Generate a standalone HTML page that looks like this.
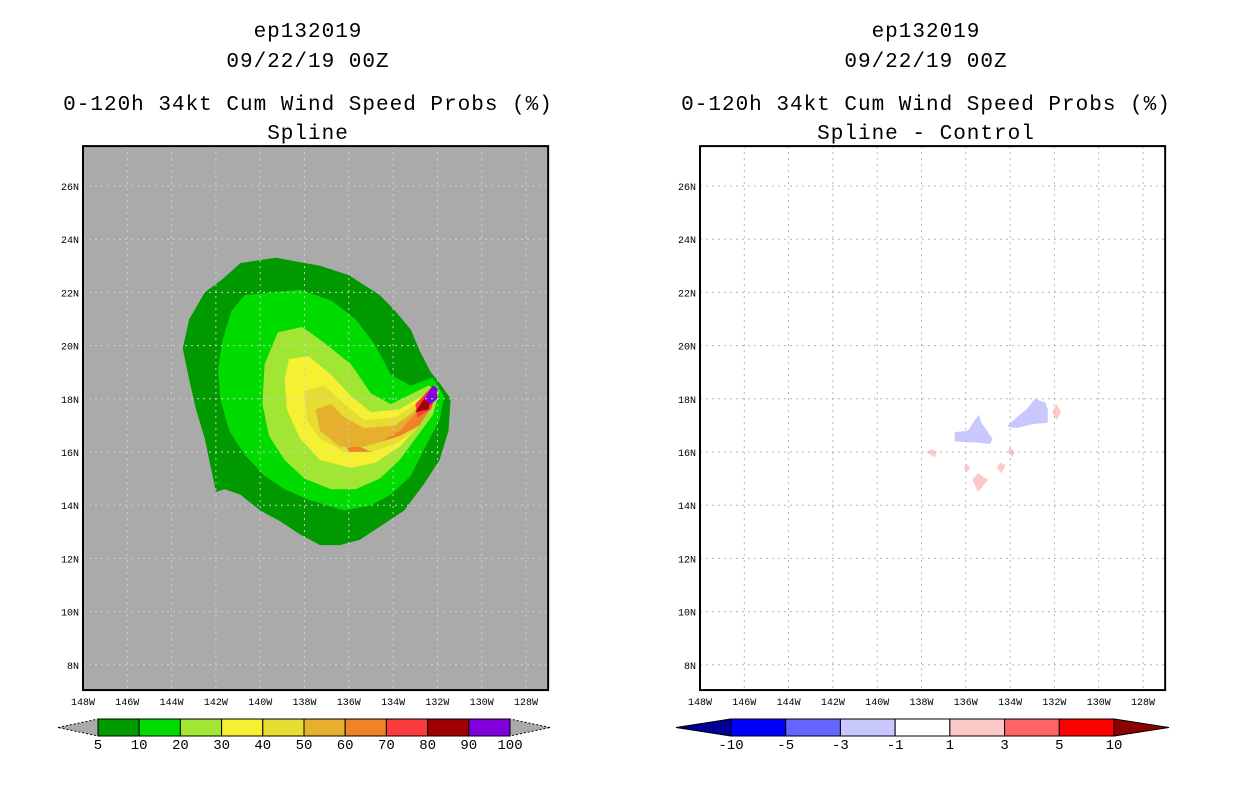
<!DOCTYPE html>
<html><head><meta charset="utf-8">
<style>
body{margin:0;background:#fff;}
svg text{font-family:"Liberation Mono","DejaVu Sans Mono",monospace;}
</style></head>
<body>
<svg id="root" width="1236" height="800" viewBox="0 0 1236 800" xmlns="http://www.w3.org/2000/svg">
<g font-size="21" letter-spacing="1" text-anchor="middle" fill="#000">
<text x="308" y="37">ep132019</text>
<text x="308" y="67">09/22/19 00Z</text>
<text x="308" y="110">0-120h 34kt Cum Wind Speed Probs (%)</text>
<text x="308" y="139">Spline</text>
</g>
<g font-size="21" letter-spacing="1" text-anchor="middle" fill="#000">
<text x="926" y="37">ep132019</text>
<text x="926" y="67">09/22/19 00Z</text>
<text x="926" y="110">0-120h 34kt Cum Wind Speed Probs (%)</text>
<text x="926" y="139">Spline - Control</text>
</g>
<g id="left"></g>
<g id="right"></g>
<g id="lcb"></g>
<g id="rcb"></g>
</svg>
<script>
const lonTicks=[-148,-146,-144,-142,-140,-138,-136,-134,-132,-130,-128];
const latTicks=[8,10,12,14,16,18,20,22,24,26];
const leftLevels=["5","10","20","30","40","50","60","70","80","90","100"];
const leftColors=["#009a00","#00dc00","#a0e632","#f5f032","#e6dc32","#e6af2d","#f08228","#fa3c3c","#a00000","#8200dc"];
const rightLevels=["-10","-5","-3","-1","1","3","5","10"];
const rightColors=["#0000ff","#6464ff","#c8c8ff","#ffffff","#ffc8c8","#ff6464","#ff0000"];
const p5=[[-140.9,23.1],[-139.3,23.3],[-137.3,23.0],[-136.0,22.65],[-134.6,21.9],[-133.9,21.3],[-133.2,20.6],[-132.8,19.8],[-132.3,19.0],[-132.0,18.7],[-131.4,18.0],[-131.5,16.8],[-131.9,15.7],[-132.6,14.8],[-133.5,13.8],[-134.4,13.3],[-135.5,12.7],[-136.4,12.5],[-137.3,12.5],[-138.2,12.9],[-139.1,13.4],[-140.0,13.8],[-140.9,14.4],[-141.6,14.6],[-142.0,14.5],[-142.2,15.3],[-142.5,16.5],[-142.9,17.6],[-143.2,18.7],[-143.5,19.9],[-143.2,21.0],[-142.5,22.0],[-141.7,22.5]];
const p10=[[-140.7,21.9],[-138.2,22.1],[-136.8,21.7],[-135.7,21.0],[-134.8,20.0],[-134.1,18.9],[-133.2,18.5],[-132.2,18.8],[-131.7,18.1],[-131.9,17.2],[-132.6,16.1],[-133.2,15.1],[-134.1,14.4],[-135.0,14.0],[-136.2,13.8],[-137.8,14.2],[-138.9,14.6],[-139.8,15.1],[-140.7,15.9],[-141.4,16.8],[-141.8,18.0],[-141.9,19.1],[-141.7,20.2],[-141.3,21.3]];
const p20=[[-139.2,20.5],[-138.1,20.7],[-137.1,20.1],[-135.9,19.3],[-135.0,18.2],[-134.1,17.8],[-132.4,18.5],[-131.9,18.3],[-132.2,17.4],[-133.0,16.5],[-133.7,15.7],[-134.6,15.0],[-135.7,14.6],[-136.8,14.6],[-138.0,15.0],[-138.9,15.7],[-139.6,16.6],[-139.9,17.8],[-139.8,19.3]];
const p30=[[-138.7,19.5],[-137.8,19.6],[-136.8,18.9],[-135.9,18.1],[-135.0,17.5],[-133.7,17.6],[-132.3,18.3],[-132.1,18.0],[-132.8,17.0],[-133.7,16.2],[-134.8,15.6],[-135.9,15.4],[-137.3,15.7],[-138.2,16.5],[-138.8,17.6],[-138.9,18.7]];
const p40=[[-138.0,18.3],[-137.1,18.5],[-136.2,17.8],[-135.3,17.2],[-133.9,17.3],[-132.4,18.1],[-132.2,17.8],[-133.0,16.8],[-133.9,16.3],[-135.0,16.0],[-136.2,16.0],[-137.3,16.5],[-137.9,17.2]];
const p50=[[-137.5,17.6],[-136.8,17.8],[-136.2,17.3],[-135.3,16.9],[-133.9,17.0],[-132.3,18.0],[-132.3,17.7],[-133.2,16.9],[-134.1,16.5],[-135.3,16.2],[-136.4,16.2],[-137.3,16.8]];
const p60a=[[-134.5,16.4],[-133.7,16.8],[-132.6,17.8],[-132.2,17.8],[-132.8,17.0],[-133.7,16.6]];
const p60b=[[-136.1,16.2],[-135.5,16.2],[-135.0,16.0],[-136.0,16.0]];
const p70=[[-133.0,17.8],[-132.2,18.5],[-132.1,18.1],[-132.3,17.6],[-132.9,17.3]];
const p80=[[-133.0,17.5],[-132.6,18.0],[-132.3,18.0],[-132.4,17.6]];
const p90=[[-132.6,18.0],[-132.2,18.5],[-132.0,18.4],[-132.0,18.0],[-132.3,17.8]];
const leftPolys=[[0,p5],[1,p10],[2,p20],[3,p30],[4,p40],[5,p50],[6,p60a],[6,p60b],[7,p70],[8,p80],[9,p90]];
const d1=[[-136.5,16.75],[-135.9,16.8],[-135.6,17.2],[-135.4,17.4],[-135.3,17.1],[-135.0,16.75],[-134.8,16.5],[-134.9,16.3],[-135.4,16.35],[-136.5,16.4]];
const d2=[[-134.1,17.0],[-133.7,17.3],[-133.2,17.65],[-132.9,18.0],[-132.4,17.85],[-132.3,17.6],[-132.3,17.1],[-133.0,17.05],[-133.7,16.9],[-134.1,16.95]];
const q1=[[-137.8,16.0],[-137.5,16.1],[-137.3,16.0],[-137.4,15.8]];
const q2=[[-132.1,17.5],[-131.9,17.8],[-131.7,17.5],[-131.9,17.2]];
const q3=[[-136.1,15.4],[-135.95,15.55],[-135.8,15.4],[-135.95,15.25]];
const q4=[[-135.7,14.95],[-135.45,15.2],[-135.0,14.95],[-135.45,14.5]];
const q5=[[-134.6,15.4],[-134.45,15.6],[-134.2,15.5],[-134.4,15.2]];
const q6=[[-134.1,16.0],[-134.0,16.2],[-133.8,16.0],[-133.9,15.8]];
const rightPolys=[[2,d1],[2,d2],[4,q1],[4,q2],[4,q3],[4,q4],[4,q5],[4,q6]];

const NS="http://www.w3.org/2000/svg";
function mk(tag,attrs,parent){const e=document.createElementNS(NS,tag);for(const k in attrs)e.setAttribute(k,attrs[k]);parent.appendChild(e);return e;}
const PX=22.15, PY=26.6;
function xs(ox){return lon=>ox+(lon+148)*PX;}
function ys(lat){return 186+(26-lat)*PY;}
function panel(g,ox,bg,grid,polys,colors,side){
  const x=xs(ox);
  const W=x(-127)-ox, top=ys(27.5), bot=ys(7.05);
  const bgr=mk('rect',{x:ox,y:top,width:W,height:bot-top,fill:bg},g);
  
  
  polys.forEach(([ci,pts],i)=>{
    const p=mk('polygon',{points:pts.map(([lo,la])=>x(lo).toFixed(1)+','+ys(la).toFixed(1)).join(' '),fill:colors[ci]},g);
    
    
  });
  lonTicks.forEach(t=>{
    if(t>-148){const l=mk('line',{x1:x(t),x2:x(t),y1:top,y2:bot,stroke:grid,'stroke-width':1,'stroke-dasharray':'2,4'},g);
    
    }
    const tx=mk('text',{x:x(t),y:705,'font-size':10,'text-anchor':'middle'},g);
    
    
    tx.textContent=Math.abs(t)+'W';
  });
  latTicks.forEach(t=>{
    const l=mk('line',{x1:ox,x2:ox+W,y1:ys(t),y2:ys(t),stroke:grid,'stroke-width':1,'stroke-dasharray':'2,4'},g);
    
    
    const tx=mk('text',{x:ox-4,y:ys(t)+4,'font-size':10,'text-anchor':'end'},g);
    
    
    tx.textContent=t+'N';
  });
  const fr=mk('rect',{x:ox,y:top,width:W,height:bot-top,fill:'none',stroke:'#000','stroke-width':2},g);
  
  
}
panel(document.getElementById('left'),83,'#aaaaaa','#cfcfcf',leftPolys,leftColors,'left');
panel(document.getElementById('right'),700,'#ffffff','#b4b4b4',rightPolys,rightColors,'right');

function colorbar(g,x0,x1,y0,h,tri,colors,labels,lc,rc,side){
  const n=colors.length, w=(x1-x0)/n;
  const t1=mk('polygon',{points:`${x0-tri},${y0+h/2} ${x0},${y0} ${x0},${y0+h}`,fill:lc,stroke:'#000','stroke-width':1,'stroke-dasharray':side==='left'?'2,2':'none'},g);
  
  
  const t2=mk('polygon',{points:`${x1+tri},${y0+h/2} ${x1},${y0} ${x1},${y0+h}`,fill:rc,stroke:'#000','stroke-width':1,'stroke-dasharray':side==='left'?'2,2':'none'},g);
  
  
  colors.forEach((c,i)=>{
    const r=mk('rect',{x:x0+i*w,y:y0,width:w,height:h,fill:c,stroke:'#000','stroke-width':1},g);
    
    
  });
  labels.forEach((s,i)=>{
    const t=mk('text',{x:x0+i*w,y:y0+h+13,'font-size':14,'text-anchor':'middle'},g);
    
    
    t.textContent=s;
  });
}
colorbar(document.getElementById('lcb'),98,510,719,17,40,leftColors,leftLevels,'#aaaaaa','#aaaaaa','left');
colorbar(document.getElementById('rcb'),731,1114,719,17,55,rightColors,rightLevels,'#000096','#8b0000','right');
</script>
</body></html>
